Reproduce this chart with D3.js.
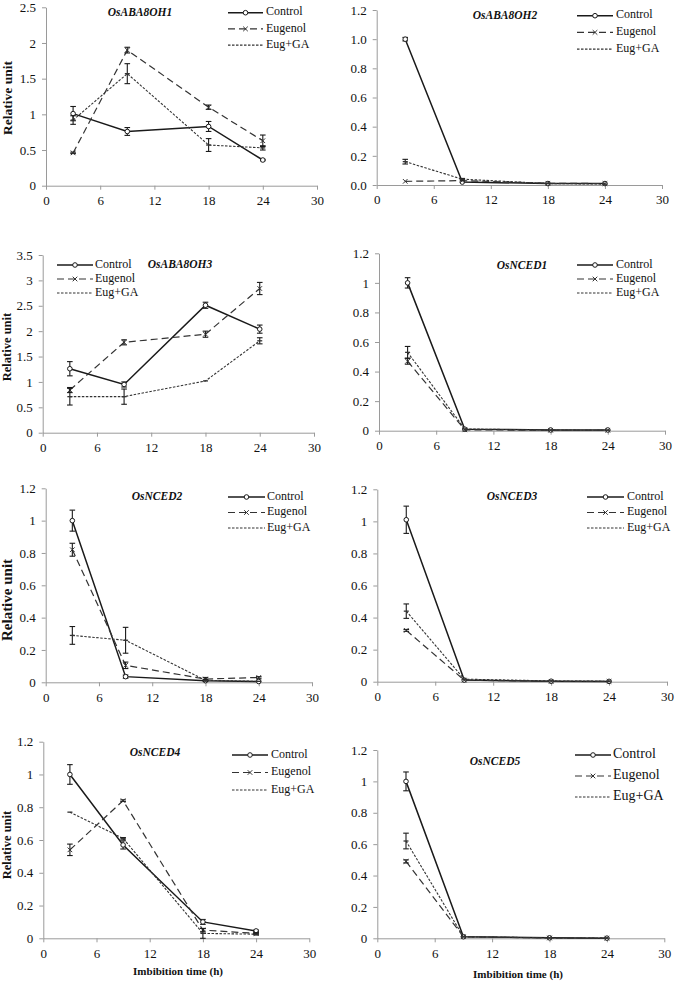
<!DOCTYPE html>
<html><head><meta charset="utf-8">
<script src="https://cdn.jsdelivr.net/npm/d3@7"></script>
<style>
html,body{margin:0;padding:0;background:#fff;}
svg{display:block;}
text{font-family:"Liberation Serif","Times New Roman",serif;fill:#111;}
</style></head>
<body>
<svg id="chart" width="675" height="982"></svg>
<script>
// ---------- DATA ----------
const times = [3, 9, 18, 24];
const xTicks = [0, 6, 12, 18, 24, 30];
const seriesNames = ["Control", "Eugenol", "Eug+GA"];
const genes = ["OsABA8OH1", "OsABA8OH2", "OsABA8OH3", "OsNCED1", "OsNCED2", "OsNCED3", "OsNCED4", "OsNCED5"];
const yMaxes = [2.5, 1.2, 3.5, 1.2, 1.2, 1.2, 1.2, 1.2];
const yStepValues = [0.5, 0.2, 0.5, 0.2, 0.2, 0.2, 0.2, 0.2];
const xTitle = "Imbibition time (h)";
const yTitle = "Relative unit";

const aba1Control = [1.01, 0.76, 0.83, 0.36];  const aba1ControlErr = [0.10, 0.055, 0.07, 0.01];
const aba1Eugenol = [0.46, 1.90, 1.10, 0.63];  const aba1EugenolErr = [0.01, 0.04, 0.03, 0.08];
const aba1EugGA   = [0.92, 1.57, 0.57, 0.53];  const aba1EugGAErr   = [0.06, 0.14, 0.09, 0.03];

const aba2Control = [1.00, 0.02, 0.01, 0.01];  const aba2ControlErr = [0.012, 0.004, 0.002, 0.002];
const aba2Eugenol = [0.025, 0.03, 0.012, 0.01]; const aba2EugenolErr = [0.003, 0.003, 0.002, 0.002];
const aba2EugGA   = [0.16, 0.04, 0.01, 0.006]; const aba2EugGAErr   = [0.016, 0.005, 0.002, 0.001];

const aba3Control = [1.26, 0.95, 2.51, 2.04];  const aba3ControlErr = [0.14, 0.05, 0.06, 0.08];
const aba3Eugenol = [0.84, 1.78, 1.94, 2.84];  const aba3EugenolErr = [0.05, 0.05, 0.06, 0.12];
const aba3EugGA   = [0.71, 0.71, 1.02, 1.81];  const aba3EugGAErr   = [0.165, 0.15, 0.01, 0.06];

const nced1Control = [1.00, 0.01, 0.005, 0.005]; const nced1ControlErr = [0.035, 0.002, 0.001, 0.001];
const nced1Eugenol = [0.47, 0.006, 0.003, 0.003]; const nced1EugenolErr = [0.02, 0.001, 0.001, 0.001];
const nced1EugGA   = [0.53, 0.012, 0.004, 0.003]; const nced1EugGAErr   = [0.04, 0.002, 0.001, 0.001];

const nced2Control = [1.00, 0.035, 0.01, 0.005]; const nced2ControlErr = [0.065, 0.01, 0.003, 0.002];
const nced2Eugenol = [0.82, 0.105, 0.02, 0.03];  const nced2EugenolErr = [0.04, 0.02, 0.01, 0.005];
const nced2EugGA   = [0.29, 0.26, 0.012, 0.006]; const nced2EugGAErr   = [0.055, 0.08, 0.005, 0.002];

const nced3Control = [1.01, 0.01, 0.003, 0.002]; const nced3ControlErr = [0.085, 0.002, 0.001, 0.001];
const nced3Eugenol = [0.32, 0.01, 0.002, 0.002]; const nced3EugenolErr = [0.006, 0.002, 0.001, 0.001];
const nced3EugGA   = [0.44, 0.016, 0.005, 0.003]; const nced3EugGAErr  = [0.045, 0.002, 0.001, 0.001];

const nced4Control = [1.00, 0.57, 0.10, 0.045]; const nced4ControlErr = [0.06, 0.025, 0.015, 0.005];
const nced4Eugenol = [0.54, 0.84, 0.05, 0.03];  const nced4EugenolErr = [0.035, 0.005, 0.01, 0.005];
const nced4EugGA   = [0.77, 0.61, 0.03, 0.025]; const nced4EugGAErr   = [0.003, 0.005, 0.03, 0.005];

const nced5Control = [1.00, 0.01, 0.003, 0.001]; const nced5ControlErr = [0.06, 0.002, 0.001, 0.001];
const nced5Eugenol = [0.49, 0.01, 0.002, 0.001]; const nced5EugenolErr = [0.01, 0.002, 0.001, 0.001];
const nced5EugGA   = [0.62, 0.01, 0.003, 0.001]; const nced5EugGAErr   = [0.05, 0.002, 0.001, 0.001];

const geneSeries = [
  [[aba1Control, aba1ControlErr], [aba1Eugenol, aba1EugenolErr], [aba1EugGA, aba1EugGAErr]],
  [[aba2Control, aba2ControlErr], [aba2Eugenol, aba2EugenolErr], [aba2EugGA, aba2EugGAErr]],
  [[aba3Control, aba3ControlErr], [aba3Eugenol, aba3EugenolErr], [aba3EugGA, aba3EugGAErr]],
  [[nced1Control, nced1ControlErr], [nced1Eugenol, nced1EugenolErr], [nced1EugGA, nced1EugGAErr]],
  [[nced2Control, nced2ControlErr], [nced2Eugenol, nced2EugenolErr], [nced2EugGA, nced2EugGAErr]],
  [[nced3Control, nced3ControlErr], [nced3Eugenol, nced3EugenolErr], [nced3EugGA, nced3EugGAErr]],
  [[nced4Control, nced4ControlErr], [nced4Eugenol, nced4EugenolErr], [nced4EugGA, nced4EugGAErr]],
  [[nced5Control, nced5ControlErr], [nced5Eugenol, nced5EugenolErr], [nced5EugGA, nced5EugGAErr]]
];

// ---------- LAYOUT ----------
const layout = [
  {x0:46,   x1:317,   yb:185.7, yt:7.3,   title:[140,13],  leg:[228,263,266,12.7,16.2,12], ytitle:[9,98,13.5], fixed:false},
  {x0:376.7,x1:662,   yb:185,   yt:10,    title:[505,16],  leg:[577,613,616,15.7,16.7,12], ytitle:null, fixed:true},
  {x0:42.7, x1:314,   yb:432.7, yt:255,   title:[180,265], leg:[57,93,95,265,14,12],       ytitle:[8,347,12.5], fixed:false},
  {x0:379,  x1:665,   yb:430.7, yt:253.3, title:[522,266], leg:[577,613,616,265,14,12],    ytitle:null, fixed:false},
  {x0:45.7, x1:312,   yb:682.3, yt:488.3, title:[157,497], leg:[228,265,267,497,15.5,12],  ytitle:[9,600,15], fixed:false},
  {x0:377.3,x1:667,   yb:681.7, yt:489.3, title:[512,497], leg:[587,624,627,497,15.5,12],  ytitle:null, fixed:false},
  {x0:43.3, x1:309.3, yb:938.3, yt:741.7, title:[155,753], leg:[232,268,271,755,17.5,12],  ytitle:[8,845,12.5], fixed:false, xtitle:[178,972]},
  {x0:377.3,x1:664.3, yb:938.3, yt:750,   title:[495,762], leg:[575,611,613,755,21,14],    ytitle:null, fixed:false, xtitle:[518,975]}
];

const styles = [
  {dash:null,    width:1.5, color:"#1a1a1a", marker:"circle"},
  {dash:"7,4",   width:1.2, color:"#333",    marker:"x"},
  {dash:"2.5,1.5",width:1.1,color:"#333",    marker:"dash"}
];

const svg = d3.select("#chart");
const axisColor = "#9a9a9a";
const serif = "'Liberation Serif', 'Times New Roman', serif";

function drawMarker(g, type, cx, cy, color) {
  if (type === "circle") {
    g.append("circle").attr("cx", cx).attr("cy", cy).attr("r", 2.3)
      .attr("fill", "#fff").attr("stroke", color).attr("stroke-width", 1);
  } else if (type === "x") {
    const s = 2.3;
    g.append("path").attr("d", `M${cx-s},${cy-s}L${cx+s},${cy+s}M${cx-s},${cy+s}L${cx+s},${cy-s}`)
      .attr("stroke", color).attr("stroke-width", 1).attr("fill", "none");
  } else {
    g.append("line").attr("x1", cx-2.5).attr("x2", cx+2.5).attr("y1", cy).attr("y2", cy)
      .attr("stroke", color).attr("stroke-width", 1.3);
  }
}

layout.forEach((p, i) => {
  const g = svg.append("g");
  const x = d3.scaleLinear().domain([0, 30]).range([p.x0, p.x1]);
  const y = d3.scaleLinear().domain([0, yMaxes[i]]).range([p.yb, p.yt]);
  const yTickVals = d3.range(0, yMaxes[i] + 1e-9, yStepValues[i]).map(v => +v.toFixed(2));
  const yFormat = p.fixed ? (d => d.toFixed(1)) : (d => String(+d.toFixed(2)));

  const xa = g.append("g").attr("transform", `translate(0,${p.yb})`)
    .call(d3.axisBottom(x).tickValues(xTicks).tickSize(4).tickSizeOuter(0).tickPadding(6).tickFormat(d => String(d)));
  const ya = g.append("g").attr("transform", `translate(${p.x0},0)`)
    .call(d3.axisLeft(y).tickValues(yTickVals).tickSize(4).tickSizeOuter(0).tickPadding(6).tickFormat(yFormat));
  [xa, ya].forEach(a => {
    a.attr("font-family", serif);
    a.select(".domain").attr("stroke", axisColor).attr("stroke-width", 1);
    a.selectAll(".tick line").attr("stroke", axisColor).attr("stroke-width", 1);
    a.selectAll(".tick text").style("font-family", serif).attr("font-size", 13).attr("fill", "#111");
  });

  // series
  geneSeries[i].forEach(([vals, errs], s) => {
    const st = styles[s];
    const pts = times.map((t, k) => [t, vals[k], errs[k]]);
    const line = d3.line().x(d => x(d[0])).y(d => y(d[1]));
    g.append("path").datum(pts).attr("d", line).attr("fill", "none")
      .attr("stroke", st.color).attr("stroke-width", st.width)
      .attr("stroke-dasharray", st.dash);
    pts.forEach(d => {
      const cx = x(d[0]), ylo = y(Math.max(0, d[1] - d[2])), yhi = y(d[1] + d[2]);
      if (Math.abs(ylo - yhi) > 1.2) {
        g.append("line").attr("x1", cx).attr("x2", cx).attr("y1", ylo).attr("y2", yhi)
          .attr("stroke", "#1a1a1a").attr("stroke-width", 1.1);
        [ylo, yhi].forEach(yy => g.append("line").attr("x1", cx-2.8).attr("x2", cx+2.8)
          .attr("y1", yy).attr("y2", yy).attr("stroke", "#1a1a1a").attr("stroke-width", 1.1));
      }
      drawMarker(g, st.marker, cx, y(d[1]), st.color);
    });
  });

  // title
  g.append("text").attr("x", p.title[0]).attr("y", p.title[1]).attr("text-anchor", "middle")
    .attr("dominant-baseline", "middle").attr("font-weight", "bold").attr("font-style", "italic")
    .style("font-family", serif).attr("font-size", 11.5).text(genes[i]);

  // legend
  const [lx0, lx1, tx, ly0, dy, fs] = p.leg;
  seriesNames.forEach((name, s) => {
    const st = styles[s];
    const yy = ly0 + s * dy;
    g.append("line").attr("x1", lx0).attr("x2", lx1).attr("y1", yy).attr("y2", yy)
      .attr("stroke", st.color).attr("stroke-width", st.width).attr("stroke-dasharray", st.dash);
    if (s < 2) drawMarker(g, st.marker, (lx0 + lx1) / 2, yy, st.color);
    g.append("text").attr("x", tx).attr("y", yy).attr("dominant-baseline", "middle")
      .style("font-family", serif).attr("font-size", fs).text(name);
  });

  if (p.ytitle) {
    g.append("text").attr("transform", `translate(${p.ytitle[0]},${p.ytitle[1]}) rotate(-90)`)
      .attr("text-anchor", "middle").attr("dominant-baseline", "middle")
      .style("font-family", serif).attr("font-weight", "bold").attr("font-size", p.ytitle[2]).text(yTitle);
  }
  if (p.xtitle) {
    g.append("text").attr("x", p.xtitle[0]).attr("y", p.xtitle[1]).attr("text-anchor", "middle")
      .attr("dominant-baseline", "middle").style("font-family", serif).attr("font-weight", "bold").attr("font-size", 11)
      .text(xTitle);
  }
});
</script>
</body></html>
